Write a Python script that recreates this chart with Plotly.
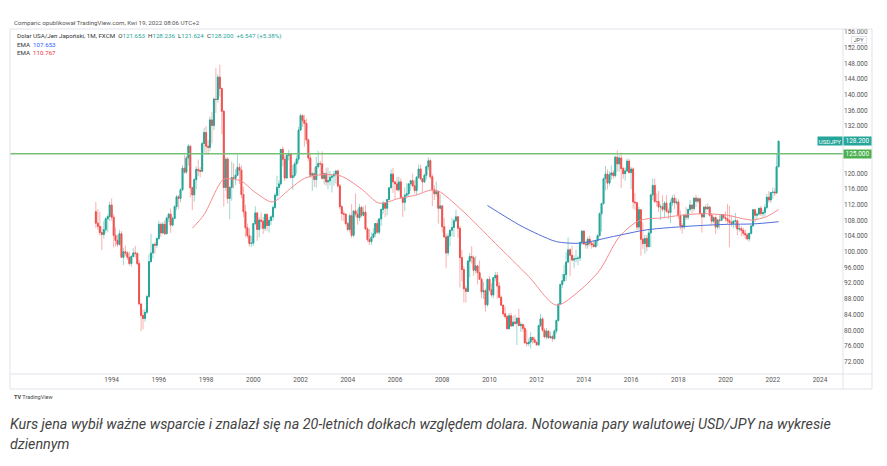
import plotly.graph_objects as go
import pandas as pd

# ---------------- data: USD/JPY monthly candles, May 1993 - Apr 2022 ----------------
opens = [
    110.2, 107.3, 106.5, 104.9, 104.4, 105.6, 108.4, 109.0,
    111.9, 108.8, 104.2, 102.9, 101.9, 104.6, 98.6, 100.0, 99.7, 98.6, 97.0, 98.8,
    99.7, 99.6, 97.0, 86.7, 83.8, 83.0, 84.6, 88.6, 97.5, 99.7, 101.9, 101.7,
    103.4, 107.0, 104.8, 107.0, 104.6, 108.6, 109.6, 106.8, 108.5, 111.5, 114.0, 113.6,
    115.8, 121.3, 120.3, 123.9, 126.9, 116.3, 114.5, 118.4, 121.0, 120.7, 120.5, 127.6,
    130.4, 126.9, 126.6, 133.6, 132.2, 138.9, 138.8, 144.5, 141.6, 135.8, 116.4, 123.6,
    113.6, 116.4, 118.9, 118.7, 119.5, 121.5, 120.8, 114.6, 110.2, 106.1, 104.1, 102.1,
    102.2, 107.2, 109.9, 105.7, 108.1, 107.8, 106.0, 109.5, 106.7, 108.0, 108.9, 111.3,
    114.4, 116.4, 117.3, 126.1, 123.6, 118.8, 124.6, 125.0, 118.9, 119.4, 122.4, 123.6,
    131.0, 134.7, 133.5, 132.7, 128.5, 123.9, 119.5, 119.9, 118.4, 121.7, 122.5, 122.4,
    118.7, 119.9, 117.8, 118.1, 119.0, 119.3, 119.8, 120.6, 116.8, 111.5, 109.7, 109.6,
    107.2, 105.7, 109.2, 104.2, 110.4, 109.6, 108.7, 111.3, 109.3, 110.1, 105.8, 103.1,
    102.6, 103.7, 104.6, 107.2, 105.0, 108.4, 110.8, 112.4, 111.1, 113.3, 116.3, 119.8,
    117.8, 117.3, 115.8, 117.8, 113.8, 112.6, 114.4, 114.8, 117.3, 118.1, 116.8, 115.6,
    119.0, 121.1, 118.6, 117.8, 119.5, 121.7, 123.2, 119.1, 115.8, 114.8, 115.3, 111.1,
    111.7, 106.4, 103.8, 99.7, 104.0, 105.5, 106.2, 107.9, 108.9, 106.0, 98.5, 95.5,
    90.6, 89.9, 97.6, 98.8, 98.5, 95.3, 96.4, 94.7, 93.0, 89.8, 90.1, 86.5,
    93.0, 90.3, 89.0, 93.4, 94.0, 91.3, 88.4, 86.4, 84.2, 83.5, 80.4, 83.7,
    81.1, 82.1, 81.8, 83.1, 81.2, 81.5, 80.5, 76.8, 76.6, 77.0, 78.2, 77.6,
    76.9, 76.3, 81.2, 82.9, 80.0, 78.3, 79.8, 78.1, 78.4, 77.9, 79.8, 82.5,
    86.7, 91.7, 92.6, 94.2, 97.4, 100.5, 99.1, 97.9, 98.2, 98.3, 98.4, 102.4,
    105.3, 102.0, 101.8, 103.2, 102.2, 101.8, 101.3, 102.8, 104.1, 109.7, 112.3, 118.6,
    119.8, 117.5, 119.6, 120.1, 119.4, 124.1, 122.4, 123.9, 121.2, 119.9, 120.6, 123.1,
    120.2, 121.1, 112.7, 112.5, 106.3, 110.7, 103.2, 102.1, 103.4, 101.3, 104.8, 114.5,
    116.9, 112.8, 112.8, 111.4, 111.5, 110.8, 112.4, 110.3, 110.0, 112.5, 113.7, 112.5,
    112.7, 109.2, 106.7, 106.3, 109.3, 108.8, 110.8, 111.9, 111.0, 113.7, 112.9, 113.5,
    109.7, 108.9, 111.4, 110.9, 111.4, 109.3, 107.8, 108.7, 106.3, 108.1, 108.0, 109.5,
    108.7, 108.4, 107.9, 107.5, 107.2, 107.8, 107.9, 105.8, 105.9, 105.5, 104.7, 104.3,
    103.3, 104.7, 106.6, 110.7, 109.3, 109.6, 111.1, 109.7, 110.0, 111.3, 113.9, 113.2,
    115.1, 115.2, 115.0, 121.653,
]
highs = [
    112.7, 110.9, 110.2, 106.5, 107.8, 108.8, 109.5, 112.8,
    113.6, 109.6, 106.2, 104.3, 105.6, 105.3, 101.0, 101.6, 100.2, 100.0, 99.2, 100.9,
    101.5, 99.9, 97.9, 87.0, 85.3, 85.4, 89.1, 99.5, 104.6, 102.1, 102.5, 103.5,
    107.9, 107.4, 107.6, 108.0, 109.0, 109.9, 111.0, 109.0, 111.9, 114.5, 114.5, 116.2,
    122.1, 124.6, 124.5, 127.5, 127.2, 116.6, 118.8, 121.8, 123.5, 121.6, 128.1, 131.6,
    132.0, 128.5, 134.5, 135.6, 139.3, 146.8, 145.2, 147.66, 141.9, 136.2, 124.0, 124.1,
    116.7, 123.0, 122.5, 121.0, 124.8, 122.5, 122.0, 116.5, 112.0, 107.2, 106.0, 104.1,
    107.3, 111.6, 110.2, 108.8, 110.0, 108.9, 109.9, 109.9, 108.9, 109.3, 111.9, 115.0,
    119.4, 118.2, 126.2, 126.9, 124.5, 124.8, 126.0, 125.2, 122.1, 123.0, 124.6, 131.9,
    135.2, 135.0, 134.9, 133.9, 128.9, 125.2, 120.4, 121.5, 124.2, 125.7, 123.2, 125.6,
    120.2, 121.4, 121.5, 120.6, 119.8, 120.6, 120.7, 121.0, 117.3, 111.9, 110.5, 109.8,
    107.6, 109.8, 112.2, 110.6, 114.9, 110.9, 112.2, 111.7, 111.5, 111.9, 106.3, 105.8,
    104.9, 106.0, 107.4, 108.1, 108.6, 111.0, 113.0, 112.6, 113.5, 116.4, 121.0, 121.4,
    118.1, 119.1, 119.1, 118.7, 114.1, 116.4, 117.5, 117.5, 118.3, 119.9, 118.3, 119.3,
    122.2, 122.2, 118.7, 119.9, 122.0, 124.1, 123.7, 119.8, 117.0, 117.9, 115.4, 114.6,
    111.8, 108.6, 104.6, 104.7, 105.6, 108.6, 108.6, 110.7, 109.2, 106.6, 100.5, 96.3,
    91.3, 98.0, 99.7, 101.4, 99.1, 98.9, 96.7, 97.8, 93.5, 92.3, 90.6, 93.1,
    93.8, 92.0, 93.6, 94.9, 94.9, 92.3, 88.9, 86.5, 86.0, 83.9, 84.4, 84.5,
    83.7, 84.0, 83.3, 85.5, 82.2, 81.6, 81.2, 80.2, 77.9, 79.6, 78.3, 78.3,
    77.4, 81.3, 84.2, 83.3, 80.6, 80.6, 80.0, 79.7, 78.9, 80.3, 82.8, 86.8,
    91.8, 94.4, 96.7, 99.9, 103.7, 100.9, 101.5, 99.1, 100.6, 99.0, 102.6, 105.4,
    105.4, 102.8, 103.8, 104.1, 102.7, 102.8, 103.1, 104.5, 110.1, 112.5, 118.9, 121.8,
    121.0, 120.5, 122.0, 120.8, 124.5, 125.86, 124.6, 125.3, 121.7, 121.5, 123.8, 123.7,
    121.7, 121.5, 114.9, 112.7, 111.5, 110.9, 107.5, 104.3, 104.3, 105.5, 114.8, 118.66,
    118.6, 114.9, 115.5, 112.2, 114.4, 112.9, 114.5, 111.0, 113.3, 114.5, 114.7, 113.7,
    113.4, 110.5, 107.3, 109.6, 111.4, 111.0, 113.2, 112.2, 113.8, 114.5, 114.0, 113.8,
    110.0, 111.5, 112.1, 112.4, 111.7, 109.9, 109.0, 109.3, 108.5, 109.3, 109.7, 109.7,
    110.3, 112.2, 111.7, 109.4, 108.1, 109.9, 108.2, 107.0, 106.5, 106.1, 105.7, 104.8,
    104.9, 106.7, 110.97, 110.96, 110.2, 111.2, 111.7, 110.8, 112.1, 114.7, 115.5, 115.2,
    116.35, 116.3, 125.1, 128.236,
]
lows = [
    106.0, 105.6, 104.2, 100.4, 103.4, 104.8, 105.0, 107.8,
    107.9, 101.1, 101.4, 101.2, 101.6, 98.5, 96.6, 98.9, 97.9, 96.5, 96.2, 98.6,
    98.5, 96.5, 86.5, 79.75, 80.3, 82.2, 84.1, 88.3, 97.2, 98.3, 99.5, 101.0,
    103.0, 103.8, 104.6, 104.2, 104.5, 107.6, 104.8, 106.5, 108.5, 110.6, 110.9, 112.6,
    115.5, 119.9, 119.8, 122.0, 113.8, 110.6, 112.7, 115.9, 119.3, 119.0, 120.4, 125.3,
    125.1, 124.7, 125.6, 127.6, 131.0, 135.4, 138.0, 139.5, 130.0, 111.5, 115.5, 112.3,
    108.3, 113.0, 116.1, 117.0, 119.3, 117.3, 113.6, 108.8, 103.8, 103.4, 101.3, 101.2,
    101.5, 106.8, 102.8, 103.7, 105.8, 104.5, 105.3, 105.4, 104.9, 106.9, 107.9, 110.8,
    113.6, 114.2, 116.8, 121.8, 118.0, 118.6, 123.3, 118.7, 115.8, 118.8, 119.9, 122.7,
    130.8, 131.8, 126.8, 127.5, 123.1, 118.8, 115.5, 116.5, 116.4, 121.2, 119.4, 118.4,
    117.1, 116.9, 115.9, 116.9, 115.1, 116.8, 117.4, 116.3, 110.8, 107.9, 107.8, 106.7,
    105.2, 104.9, 103.5, 103.7, 108.9, 106.9, 107.8, 108.8, 109.0, 105.6, 102.5, 101.8,
    101.7, 103.5, 103.7, 104.6, 104.4, 106.6, 109.6, 108.8, 109.3, 113.2, 116.2, 115.0,
    113.4, 115.5, 115.3, 113.5, 108.9, 110.4, 113.6, 114.0, 115.5, 116.5, 114.8, 114.4,
    118.5, 118.3, 115.2, 117.6, 118.4, 120.8, 118.6, 111.6, 113.2, 114.1, 107.2, 110.8,
    104.9, 103.6, 95.8, 99.0, 101.4, 104.0, 103.8, 107.5, 103.6, 90.9, 92.5, 87.1,
    87.1, 89.7, 93.5, 97.0, 93.9, 94.5, 91.7, 92.9, 88.2, 88.0, 84.8, 86.0,
    89.8, 88.5, 88.1, 92.6, 88.0, 88.3, 86.3, 83.6, 82.9, 80.2, 80.2, 80.9,
    81.0, 81.3, 76.25, 81.1, 79.6, 79.7, 76.8, 75.9, 75.9, 75.35, 76.6, 76.8,
    76.1, 76.0, 80.8, 79.6, 78.0, 77.7, 77.9, 78.0, 77.1, 77.5, 79.1, 82.2,
    86.5, 90.8, 92.5, 92.6, 97.1, 93.8, 97.6, 95.8, 97.3, 96.6, 97.6, 101.6,
    101.8, 100.8, 100.8, 101.4, 100.8, 101.2, 101.1, 101.5, 104.0, 105.2, 112.0, 115.6,
    115.9, 116.9, 118.3, 118.6, 118.9, 120.4, 120.4, 116.2, 118.6, 118.1, 120.3, 119.9,
    115.98, 110.97, 110.6, 105.55, 105.5, 99.0, 100.7, 99.5, 100.1, 101.2, 101.2, 113.1,
    112.5, 111.6, 110.1, 108.1, 110.2, 108.8, 110.0, 108.3, 107.3, 111.6, 110.8, 111.9,
    108.3, 105.6, 104.6, 105.7, 108.1, 108.1, 110.3, 109.8, 110.4, 111.4, 112.3, 109.6,
    104.9, 108.5, 109.7, 110.8, 108.9, 106.8, 107.2, 104.5, 105.7, 105.9, 107.9, 108.4,
    107.7, 107.0, 101.2, 106.4, 106.0, 106.1, 104.2, 105.1, 104.0, 104.0, 103.2, 102.9,
    102.6, 104.4, 106.4, 107.5, 108.3, 109.2, 109.1, 108.7, 109.1, 110.8, 112.5, 112.5,
    113.5, 114.2, 114.7, 121.624,
]
closes = [
    107.3, 106.5, 104.9, 104.4, 105.6, 108.4, 109.0, 111.9,
    108.8, 104.2, 102.9, 101.9, 104.6, 98.6, 100.0, 99.7, 98.6, 97.0, 98.8, 99.7,
    99.6, 97.0, 86.7, 83.8, 83.0, 84.6, 88.6, 97.5, 99.7, 101.9, 101.7, 103.4,
    107.0, 104.8, 107.0, 104.6, 108.6, 109.6, 106.8, 108.5, 111.5, 114.0, 113.6, 115.8,
    121.3, 120.3, 123.9, 126.9, 116.3, 114.5, 118.4, 121.0, 120.7, 120.5, 127.6, 130.4,
    126.9, 126.6, 133.6, 132.2, 138.9, 138.8, 144.5, 141.6, 135.8, 116.4, 123.6, 113.6,
    116.4, 118.9, 118.7, 119.5, 121.5, 120.8, 114.6, 110.2, 106.1, 104.1, 102.1, 102.2,
    107.2, 109.9, 105.7, 108.1, 107.8, 106.0, 109.5, 106.7, 108.0, 108.9, 111.3, 114.4,
    116.4, 117.3, 126.1, 123.6, 118.8, 124.6, 125.0, 118.9, 119.4, 122.4, 123.6, 131.0,
    134.7, 133.5, 132.7, 128.5, 123.9, 119.5, 119.9, 118.4, 121.7, 122.5, 122.4, 118.7,
    119.9, 117.8, 118.1, 119.0, 119.3, 119.8, 120.6, 116.8, 111.5, 109.7, 109.6, 107.2,
    105.7, 109.2, 104.2, 110.4, 109.6, 108.7, 111.3, 109.3, 110.1, 105.8, 103.1, 102.6,
    103.7, 104.6, 107.2, 105.0, 108.4, 110.8, 112.4, 111.1, 113.3, 116.3, 119.8, 117.8,
    117.3, 115.8, 117.8, 113.8, 112.6, 114.4, 114.8, 117.3, 118.1, 116.8, 115.6, 119.0,
    121.1, 118.6, 117.8, 119.5, 121.7, 123.2, 119.1, 115.8, 114.8, 115.3, 111.1, 111.7,
    106.4, 103.8, 99.7, 104.0, 105.5, 106.2, 107.9, 108.9, 106.0, 98.5, 95.5, 90.6,
    89.9, 97.6, 98.8, 98.5, 95.3, 96.4, 94.7, 93.0, 89.8, 90.1, 86.5, 93.0,
    90.3, 89.0, 93.4, 94.0, 91.3, 88.4, 86.4, 84.2, 83.5, 80.4, 83.7, 81.1,
    82.1, 81.8, 83.1, 81.2, 81.5, 80.5, 76.8, 76.6, 77.0, 78.2, 77.6, 76.9,
    76.3, 81.2, 82.9, 80.0, 78.3, 79.8, 78.1, 78.4, 77.9, 79.8, 82.5, 86.7,
    91.7, 92.6, 94.2, 97.4, 100.5, 99.1, 97.9, 98.2, 98.3, 98.4, 102.4, 105.3,
    102.0, 101.8, 103.2, 102.2, 101.8, 101.3, 102.8, 104.1, 109.7, 112.3, 118.6, 119.8,
    117.5, 119.6, 120.1, 119.4, 124.1, 122.4, 123.9, 121.2, 119.9, 120.6, 123.1, 120.2,
    121.1, 112.7, 112.5, 106.3, 110.7, 103.2, 102.1, 103.4, 101.3, 104.8, 114.5, 116.9,
    112.8, 112.8, 111.4, 111.5, 110.8, 112.4, 110.3, 110.0, 112.5, 113.7, 112.5, 112.7,
    109.2, 106.7, 106.3, 109.3, 108.8, 110.8, 111.9, 111.0, 113.7, 112.9, 113.5, 109.7,
    108.9, 111.4, 110.9, 111.4, 109.3, 107.8, 108.7, 106.3, 108.1, 108.0, 109.5, 108.7,
    108.4, 107.9, 107.5, 107.2, 107.8, 107.9, 105.8, 105.9, 105.5, 104.7, 104.3, 103.3,
    104.7, 106.6, 110.7, 109.3, 109.6, 111.1, 109.7, 110.0, 111.3, 113.9, 113.2, 115.1,
    115.2, 115.0, 121.653, 128.200,
]

# EMA lines (month, value)
ema_slow_dates = ["2009-12-01", "2011-04-01", "2012-02-01", "2012-11-01", "2013-11-01",
                  "2015-04-01", "2016-09-01", "2018-09-01", "2020-02-01", "2021-03-01", "2022-04-01"]
ema_slow_vals = [111.8, 106.9, 104.4, 102.6, 102.2, 103.9, 105.6, 106.6, 107.0, 107.1, 107.653]

ema_fast_dates = ["1997-06-01", "1997-12-01", "1998-07-01", "1998-10-01", "1999-07-01", "2000-01-01",
                  "2000-10-01", "2001-01-01", "2001-08-01", "2002-03-01", "2002-09-01", "2003-09-01",
                  "2004-08-01", "2005-05-01", "2006-03-01", "2006-12-01", "2007-07-01", "2007-11-01",
                  "2008-11-01", "2010-04-01", "2011-09-01", "2012-11-01", "2013-11-01", "2014-09-01",
                  "2015-07-01", "2016-04-01", "2016-09-01", "2017-04-01", "2018-02-01", "2019-01-01",
                  "2020-02-01", "2020-10-01", "2021-03-01", "2021-10-01", "2022-04-01"]
ema_fast_vals = [106.0, 109.5, 116.5, 118.5, 118.0, 115.5,
                 112.7, 113.2, 116.2, 118.7, 119.5, 119.4,
                 116.0, 112.4, 113.6, 114.5, 115.7, 115.5,
                 110.6, 102.2, 93.7, 86.4, 90.2, 95.3,
                 103.8, 107.7, 108.4, 108.6, 109.3, 109.7,
                 109.3, 108.4, 108.1, 109.0, 110.767]

level_line = 125.0
last_price = 128.200
price_ticks = list(range(72, 157, 4))
hidden_ticks = [124]          # covered by the 125.000 level label in the original
year_ticks = list(range(1994, 2025, 2))

# ---------------- figure ----------------
W, H = 887, 466
PL, PR, PT, PB = 10, 843, 29, 374   # plot pane in pixels
UP, DN = "#26a69a", "#ef5350"
UPW, DNW = "rgba(38,166,154,0.45)", "rgba(239,83,80,0.45)"
GRID = "#e0e3eb"

dates = pd.date_range("1993-05-01", periods=len(closes), freq="MS")
body_top = [max(o, c) for o, c in zip(opens, closes)]
body_bot = [min(o, c) for o, c in zip(opens, closes)]


def px(X):
    return (X - PL) / (PR - PL)


def py(Y):
    return (PB - Y) / (PB - PT)


fig = go.Figure()
fig.add_trace(go.Candlestick(
    x=dates, open=opens, high=highs, low=lows, close=closes,
    increasing=dict(line=dict(color=UPW, width=1), fillcolor=UPW),
    decreasing=dict(line=dict(color=DNW, width=1), fillcolor=DNW),
    whiskerwidth=0, hoverinfo="skip", showlegend=False))
fig.add_trace(go.Candlestick(
    x=dates, open=opens, high=body_top, low=body_bot, close=closes,
    increasing=dict(line=dict(color=UP, width=1), fillcolor=UP),
    decreasing=dict(line=dict(color=DN, width=1), fillcolor=DN),
    whiskerwidth=0, hoverinfo="skip", showlegend=False))
fig.add_trace(go.Scatter(
    x=ema_fast_dates, y=ema_fast_vals, mode="lines",
    line=dict(color="#f88a8f", width=1, shape="spline", smoothing=0.8),
    hoverinfo="skip", showlegend=False))
fig.add_trace(go.Scatter(
    x=ema_slow_dates, y=ema_slow_vals, mode="lines",
    line=dict(color="#4f6fd8", width=1, shape="spline", smoothing=0.8),
    hoverinfo="skip", showlegend=False))

shapes = [
    dict(type="line", xref="paper", yref="y", x0=0, x1=1, y0=level_line, y1=level_line,
         line=dict(color="#74c178", width=1.5)),
]
for (x0, y0, x1, y1) in [(PL, PT, 872, PT), (PL, PB, 872, PB), (PL, 389, 872, 389),
                         (PL, PT, PL, 389), (PR, PT, PR, 389), (872, PT, 872, 389)]:
    shapes.append(dict(type="line", xref="paper", yref="paper",
                       x0=px(x0), x1=px(x1), y0=py(y0), y1=py(y1),
                       line=dict(color=GRID, width=1)))

ann = []


def text(X, Y, s, size=6.5, color="#555", **kw):
    ann.append(dict(xref="paper", yref="paper", x=px(X), y=py(Y), text=s, showarrow=False,
                    xanchor=kw.pop("xanchor", "left"), yanchor="middle",
                    font=dict(family=kw.pop("family", "Roboto, Arial, sans-serif"), size=size, color=color), **kw))


text(12, 23, "Comparic opublikował TradingView.com, Kwi 19, 2022 08:06 UTC+2", size=6.2, color="#555")
v = "<span style='color:#26a69a'>"
text(15, 36, "Dolar USA/Jen Japoński, 1M, FXCM  O" + v + "121.653</span>  H" + v + "128.236</span>  L"
     + v + "121.624</span>  C" + v + "128.200</span>  " + v + "+6.547 (+5.38%)</span>",
     size=6.2, color="#333")
text(15, 44.5, "EMA  <span style='color:#2962ff'>107.653</span>", size=6.2, color="#333")
text(15, 53, "EMA  <span style='color:#f23645'>110.767</span>", size=6.2, color="#333")

# price labels on the scale
ann.append(dict(xref="paper", yref="y", x=px(830), y=last_price, text="USDJPY", showarrow=False,
                xanchor="center", yanchor="middle", bgcolor=UP, width=24, height=8, borderpad=0,
                font=dict(family="Roboto, Arial, sans-serif", size=6, color="white")))
ann.append(dict(xref="paper", yref="y", x=px(857.5), y=last_price, text=f"{last_price:.3f}", showarrow=False,
                xanchor="center", yanchor="middle", bgcolor=UP, width=27, height=8, borderpad=0,
                font=dict(family="Roboto, Arial, sans-serif", size=6.5, color="white")))
ann.append(dict(xref="paper", yref="y", x=px(857.5), y=level_line, text=f"{level_line:.3f}", showarrow=False,
                xanchor="center", yanchor="middle", bgcolor="#4caf50", width=27, height=8, borderpad=0,
                font=dict(family="Roboto, Arial, sans-serif", size=6.5, color="white")))
ann.append(dict(xref="paper", yref="paper", x=px(859), y=py(39.5), text="JPY", showarrow=False,
                xanchor="center", yanchor="middle", bgcolor="white", bordercolor=GRID, borderwidth=1,
                width=14, height=6, borderpad=0,
                font=dict(family="Roboto, Arial, sans-serif", size=5.5, color="#555")))

# TradingView mark
text(12, 397, "<b>TV</b> TradingView", size=5.5, color="#444")

# caption
cap = dict(family="Roboto, Arial, sans-serif", size=14.3, color="#444")
ann.append(dict(xref="paper", yref="paper", x=px(8), y=py(424), showarrow=False, xanchor="left", yanchor="middle",
                text="<i>Kurs jena wybił ważne wsparcie i znalazł się na 20-letnich dołkach względem dolara. "
                     "Notowania pary walutowej USD/JPY na wykresie</i>", font=cap))
ann.append(dict(xref="paper", yref="paper", x=px(8), y=py(444), showarrow=False, xanchor="left", yanchor="middle",
                text="<i>dziennym</i>", font=cap))

fig.update_layout(
    width=W, height=H, margin=dict(l=PL, r=W - PR, t=PT, b=H - PB),
    paper_bgcolor="white", plot_bgcolor="white",
    shapes=shapes, annotations=ann, showlegend=False,
    xaxis=dict(type="date", range=["1989-09-11", "2024-12-22"], rangeslider=dict(visible=False),
               tickvals=[f"{y}-01-01" for y in year_ticks], ticktext=[str(y) for y in year_ticks],
               showgrid=False, zeroline=False, showline=False, ticks="",
               tickfont=dict(family="Roboto, Arial, sans-serif", size=6.5, color="#555")),
    yaxis=dict(side="right", range=[68.87, 156.76], tickvals=price_ticks,
               ticktext=["" if t in hidden_ticks else f"{t:.3f}" for t in price_ticks],
               showgrid=False, zeroline=False, showline=False, ticks="",
               tickfont=dict(family="Roboto, Arial, sans-serif", size=6.5, color="#555")),
)

fig.write_html("out.html")
